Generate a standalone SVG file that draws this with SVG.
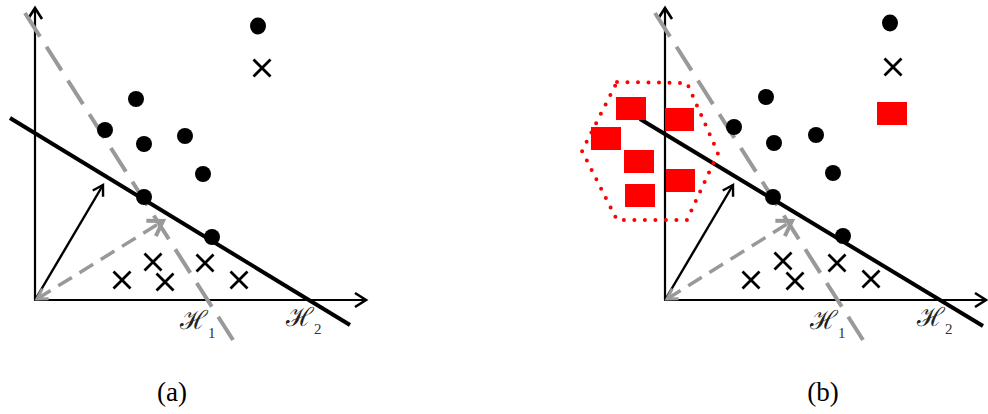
<svg xmlns="http://www.w3.org/2000/svg" width="988" height="414" viewBox="0 0 988 414">
<style>
.axis{stroke:#000;stroke-width:2.2;fill:none}
.sep{stroke:#000;stroke-width:4;fill:none}
.h1{stroke:#999;stroke-width:4;fill:none;stroke-dasharray:28 12}
.vec{stroke:#000;stroke-width:2.4;fill:none}
.gvec{stroke:#999;stroke-width:3.5;fill:none;stroke-dasharray:16 9}
.dot{fill:#000}
.x{stroke:#000;stroke-width:2.8;fill:none}
.sq{fill:#ff0000}
.hex{stroke:#ff0000;stroke-width:4;fill:none;stroke-linecap:round;stroke-dasharray:0 10.5}
.lbl{font-family:"DejaVu Serif","Liberation Serif",serif;font-size:26px;fill:#222}
.sub{font-family:"Liberation Serif","DejaVu Serif",serif;font-size:15px;fill:#333}
.cap{font-family:"Liberation Serif","Times New Roman",serif;font-size:27px;fill:#000}
</style>
<defs>
<marker id="ax" markerUnits="userSpaceOnUse" markerWidth="20" markerHeight="20" refX="0" refY="0" viewBox="-14 -10 16 20" orient="auto">
<path d="M-11,-7 L0,0 L-11,7" fill="none" stroke="#000" stroke-width="2.6"/>
</marker>
<marker id="va" markerUnits="userSpaceOnUse" markerWidth="20" markerHeight="20" refX="0" refY="0" viewBox="-14 -10 16 20" orient="auto">
<path d="M-10,-6 L0,0 L-10,6" fill="none" stroke="#000" stroke-width="2.4"/>
</marker>
<marker id="ga" markerUnits="userSpaceOnUse" markerWidth="24" markerHeight="24" refX="0" refY="0" viewBox="-18 -12 20 24" orient="auto">
<path d="M-14,-9 L0,0 L-14,9" fill="none" stroke="#999" stroke-width="4"/>
</marker>
<marker id="gs" markerUnits="userSpaceOnUse" markerWidth="20" markerHeight="20" refX="0" refY="0" viewBox="-4 -10 16 20" orient="auto">
<path d="M10,-6 L0,0 L10,6" fill="none" stroke="#999" stroke-width="3"/>
</marker>
<g id="cross"><path class="x" d="M-8.5,-8.5 L8.5,8.5 M8.5,-8.5 L-8.5,8.5"/></g>
</defs>

<!-- Panel (a) -->
<g id="panel-a">
<g id="a-connectors">
<line class="axis" x1="35" y1="300" x2="35" y2="8" marker-end="url(#ax)"/>
<line class="axis" x1="34" y1="300" x2="366" y2="300" marker-end="url(#ax)"/>
<line class="h1" x1="25" y1="13" x2="233" y2="340"/>
<line class="sep" x1="10" y1="118" x2="350" y2="325"/>
<line class="vec" x1="35" y1="300" x2="103" y2="185" marker-end="url(#va)"/>
<line class="gvec" x1="37" y1="299" x2="163" y2="221" marker-end="url(#ga)" marker-start="url(#gs)"/>
</g>
<g id="a-dots">
<ellipse class="dot" cx="258" cy="26" rx="8" ry="8.5"/>
<ellipse class="dot" cx="136" cy="99" rx="8" ry="8"/>
<ellipse class="dot" cx="105" cy="130" rx="8" ry="8"/>
<ellipse class="dot" cx="144" cy="144" rx="8" ry="8"/>
<ellipse class="dot" cx="185" cy="136" rx="8" ry="8"/>
<ellipse class="dot" cx="203" cy="174" rx="8" ry="8"/>
<ellipse class="dot" cx="144" cy="197" rx="8" ry="8"/>
<ellipse class="dot" cx="212" cy="237" rx="8" ry="8"/>
</g>
<g id="a-crosses">
<use href="#cross" x="262" y="68"/>
<use href="#cross" x="153" y="262"/>
<use href="#cross" x="122" y="280"/>
<use href="#cross" x="165" y="282"/>
<use href="#cross" x="205" y="263"/>
<use href="#cross" x="239" y="280"/>
</g>
<g id="a-labels">
<text class="lbl" x="180" y="329">ℋ<tspan class="sub" dy="9">1</tspan></text>
<text class="lbl" x="286" y="326">ℋ<tspan class="sub" dy="8">2</tspan></text>
<text class="cap" x="172" y="401" text-anchor="middle">(a)</text>
</g>
</g>

<!-- Panel (b) -->
<g id="panel-b">
<g id="b-connectors">
<line class="axis" x1="665" y1="300" x2="665" y2="8" marker-end="url(#ax)"/>
<line class="axis" x1="664" y1="300" x2="986" y2="300" marker-end="url(#ax)"/>
<line class="h1" x1="655" y1="13" x2="863" y2="340"/>
<line class="sep" x1="640" y1="119" x2="983" y2="326"/>
<line class="vec" x1="665" y1="300" x2="733" y2="185" marker-end="url(#va)"/>
<line class="gvec" x1="667" y1="299" x2="792" y2="221" marker-end="url(#ga)" marker-start="url(#gs)"/>
</g>
<g id="b-cluster">
<polygon class="hex" points="617,82 687,83 718,153 687,220 617,220 582,151"/>
<rect class="sq" x="616" y="97" width="30" height="23"/>
<rect class="sq" x="665" y="108" width="29" height="23"/>
<rect class="sq" x="591" y="127" width="30" height="23"/>
<rect class="sq" x="624" y="150" width="30" height="23"/>
<rect class="sq" x="666" y="169" width="29" height="23"/>
<rect class="sq" x="625" y="184" width="30" height="23"/>
</g>
<g id="b-dots">
<ellipse class="dot" cx="890" cy="23" rx="8" ry="8.5"/>
<ellipse class="dot" cx="766" cy="97" rx="8" ry="8"/>
<ellipse class="dot" cx="734" cy="127" rx="8" ry="8"/>
<ellipse class="dot" cx="774" cy="143" rx="8" ry="8"/>
<ellipse class="dot" cx="816" cy="135" rx="8" ry="8"/>
<ellipse class="dot" cx="833" cy="173" rx="8" ry="8"/>
<ellipse class="dot" cx="773" cy="197" rx="8" ry="8"/>
<ellipse class="dot" cx="843" cy="236" rx="8" ry="8"/>
</g>
<g id="b-crosses">
<use href="#cross" x="893" y="67"/>
<use href="#cross" x="783" y="261"/>
<use href="#cross" x="751" y="280"/>
<use href="#cross" x="795" y="281"/>
<use href="#cross" x="837" y="263"/>
<use href="#cross" x="871" y="279"/>
</g>
<g id="b-legend-square">
<rect class="sq" x="877" y="102" width="30" height="23"/>
</g>
<g id="b-labels">
<text class="lbl" x="810" y="329">ℋ<tspan class="sub" dy="9">1</tspan></text>
<text class="lbl" x="917" y="326">ℋ<tspan class="sub" dy="8">2</tspan></text>
<text class="cap" x="823" y="401" text-anchor="middle">(b)</text>
</g>
</g>
</svg>
